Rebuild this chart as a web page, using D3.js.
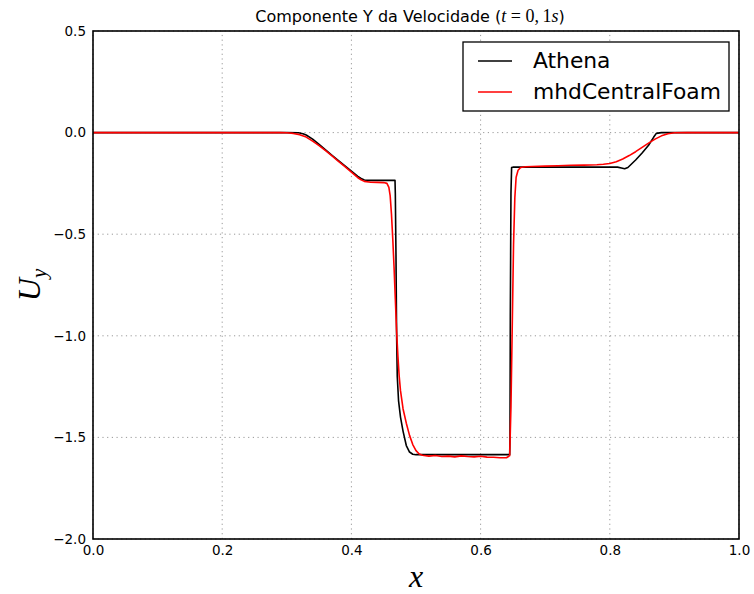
<!DOCTYPE html>
<html>
<head>
<meta charset="utf-8">
<script src="https://cdn.jsdelivr.net/npm/d3@7/dist/d3.min.js"></script>
<style>
  body { margin: 0; background: #fff; }
  svg { display: block; font-family: "DejaVu Sans", sans-serif; }
</style>
</head>
<body>
<svg id="chart" width="754" height="594"></svg>
<script>
// Tick values
const xTicks = [0.0, 0.2, 0.4, 0.6, 0.8, 1.0];
const yTicks = [0.5, 0.0, -0.5, -1.0, -1.5, -2.0];

// Athena reference solution: x positions and Uy values
const athenaX = [0.0, 0.30, 0.318, 0.325, 0.33, 0.34, 0.35, 0.36, 0.37, 0.38, 0.39, 0.40, 0.41, 0.415, 0.42, 0.425,
  0.4675, 0.468, 0.469, 0.470, 0.471, 0.473, 0.476, 0.480, 0.485, 0.490, 0.495, 0.50,
  0.645, 0.6455, 0.646, 0.647, 0.648, 0.65, 0.70, 0.75, 0.80, 0.812, 0.818, 0.823, 0.828,
  0.84, 0.85, 0.86, 0.868, 0.872, 0.88, 1.0];
const athenaY = [0.0, 0.0, -0.001, -0.006, -0.012, -0.032, -0.058, -0.085, -0.112, -0.138, -0.164, -0.19, -0.215, -0.226, -0.233, -0.235,
  -0.235, -0.30, -0.60, -1.0, -1.2, -1.32, -1.40, -1.47, -1.54, -1.572, -1.583, -1.585,
  -1.585, -1.50, -0.90, -0.30, -0.172, -0.170, -0.170, -0.170, -0.170, -0.170, -0.174, -0.178, -0.172,
  -0.135, -0.100, -0.062, -0.022, -0.004, 0.0, 0.0];

// mhdCentralFoam solution: x positions and Uy values
const foamX = [0.0, 0.29, 0.30, 0.31, 0.32, 0.33, 0.34, 0.35, 0.36, 0.37, 0.38, 0.39, 0.40, 0.41, 0.415, 0.42, 0.43,
  0.44, 0.45, 0.455, 0.458, 0.460, 0.462, 0.464, 0.466, 0.468, 0.470, 0.472, 0.474, 0.476, 0.480, 0.485,
  0.490, 0.495, 0.50, 0.505, 0.51, 0.52, 0.53, 0.54, 0.55, 0.56, 0.57, 0.58, 0.59, 0.60, 0.61, 0.62, 0.63,
  0.64, 0.645, 0.647, 0.649, 0.651, 0.653, 0.655, 0.658, 0.662, 0.67, 0.68, 0.70, 0.72, 0.74, 0.76, 0.78,
  0.79, 0.80, 0.81, 0.82, 0.83, 0.84, 0.85, 0.86, 0.87, 0.88, 0.89, 0.90, 0.92, 1.0];
const foamY = [0.0, 0.0, -0.001, -0.004, -0.01, -0.022, -0.042, -0.064, -0.089, -0.115, -0.142, -0.168, -0.195, -0.222, -0.232, -0.240, -0.244,
  -0.245, -0.246, -0.25, -0.27, -0.31, -0.40, -0.52, -0.66, -0.82, -0.98, -1.10, -1.20, -1.27, -1.36, -1.43,
  -1.49, -1.535, -1.565, -1.582, -1.588, -1.592, -1.589, -1.594, -1.592, -1.596, -1.591, -1.594, -1.596, -1.593, -1.597, -1.598, -1.600,
  -1.600, -1.590, -1.35, -0.95, -0.55, -0.32, -0.22, -0.185, -0.172, -0.168, -0.167, -0.165, -0.163, -0.161, -0.160, -0.158,
  -0.156, -0.152, -0.143, -0.130, -0.113, -0.094, -0.073, -0.052, -0.032, -0.016, -0.006, -0.001, 0.0, 0.0];

const svg = d3.select("#chart");
const margin = { left: 93, right: 15, top: 31, bottom: 55 };
const W = 754, H = 594;
const x = d3.scaleLinear().domain([0, 1]).range([margin.left, W - margin.right]);
const y = d3.scaleLinear().domain([-2.0, 0.5]).range([H - margin.bottom, margin.top]);

const fmt = d => d3.format(".1f")(d).replace("-", "\u2212");
const sansFont = "'DejaVu Sans', sans-serif";
const mathFont = "'Liberation Serif', 'DejaVu Serif', serif";

// Dotted grid
const grid = svg.append("g");
grid.selectAll("line.gx").data(xTicks).join("line")
  .attr("x1", d => x(d)).attr("x2", d => x(d))
  .attr("y1", y(-2.0)).attr("y2", y(0.5))
  .attr("stroke", "#999").attr("stroke-width", 1).attr("stroke-dasharray", "1.2,3.5");
grid.selectAll("line.gy").data(yTicks).join("line")
  .attr("y1", d => y(d)).attr("y2", d => y(d))
  .attr("x1", x(0)).attr("x2", x(1))
  .attr("stroke", "#999").attr("stroke-width", 1).attr("stroke-dasharray", "1.2,3.5");

// Axes
const xAxis = d3.axisBottom(x).tickValues(xTicks).tickFormat(fmt).tickSize(0).tickPadding(6);
const yAxis = d3.axisLeft(y).tickValues(yTicks).tickFormat(fmt).tickSize(0).tickPadding(7);
const gx = svg.append("g").attr("transform", `translate(0,${y(-2.0)})`).call(xAxis);
const gy = svg.append("g").attr("transform", `translate(${x(0)},0)`).call(yAxis);
[gx, gy].forEach(g => {
  g.select(".domain").remove();
  g.selectAll("text").style("font-size", "13.5px").style("font-family", sansFont).attr("fill", "#000");
});

// Curves
const line = d3.line().x(d => x(d[0])).y(d => y(d[1]));
svg.append("clipPath").attr("id", "clip").append("rect")
  .attr("x", x(0)).attr("y", y(0.5)).attr("width", x(1) - x(0)).attr("height", y(-2.0) - y(0.5));
svg.append("path").datum(athenaX.map((v, i) => [v, athenaY[i]]))
  .attr("d", line).attr("fill", "none").attr("stroke", "#000").attr("stroke-width", 1.6)
  .attr("stroke-linejoin", "round").attr("clip-path", "url(#clip)");
svg.append("path").datum(foamX.map((v, i) => [v, foamY[i]]))
  .attr("d", line).attr("fill", "none").attr("stroke", "#ff0000").attr("stroke-width", 1.6)
  .attr("stroke-linejoin", "round").attr("clip-path", "url(#clip)");

// Frame
svg.append("rect").attr("x", x(0)).attr("y", y(0.5))
  .attr("width", x(1) - x(0)).attr("height", y(-2.0) - y(0.5))
  .attr("fill", "none").attr("stroke", "#000").attr("stroke-width", 1.6);

// Title
const title = svg.append("text").attr("x", (x(0) + x(1)) / 2 - 6).attr("y", 22)
  .attr("text-anchor", "middle").style("font-size", "16px").style("font-family", sansFont).attr("fill", "#000");
title.append("tspan").text("Componente Y da Velocidade (");
title.append("tspan").style("font-family", mathFont).style("font-style", "italic").style("font-size", "18px").text("t");
title.append("tspan").style("font-family", mathFont).style("font-size", "18px").text(" = 0,\u20091");
title.append("tspan").style("font-family", mathFont).style("font-style", "italic").style("font-size", "18px").text("s");
title.append("tspan").text(")");

// Axis labels
svg.append("text").attr("x", (x(0) + x(1)) / 2).attr("y", 587)
  .attr("text-anchor", "middle").style("font-size", "32px")
  .style("font-family", mathFont).style("font-style", "italic").text("x");
const yl = svg.append("text").attr("transform", `translate(40,${y(-0.75)}) rotate(-90)`)
  .attr("text-anchor", "middle").style("font-size", "32px")
  .style("font-family", mathFont).style("font-style", "italic");
yl.append("tspan").text("U");
yl.append("tspan").style("font-size", "21px").attr("dy", 6).text("y");

// Legend
const series = ["Athena", "mhdCentralFoam"];
const colors = ["#000", "#ff0000"];
const lg = svg.append("g").attr("transform", "translate(463,42)");
lg.append("rect").attr("width", 266).attr("height", 69)
  .attr("fill", "#fff").attr("stroke", "#000").attr("stroke-width", 1.3);
series.forEach((s, i) => {
  const cy = 19 + i * 31;
  lg.append("line").attr("x1", 15).attr("x2", 49).attr("y1", cy).attr("y2", cy)
    .attr("stroke", colors[i]).attr("stroke-width", 1.6);
  lg.append("text").attr("x", 70).attr("y", cy + 7).style("font-size", "21.8px")
    .style("font-family", sansFont).attr("fill", "#000").text(s);
});
</script>
</body>
</html>
